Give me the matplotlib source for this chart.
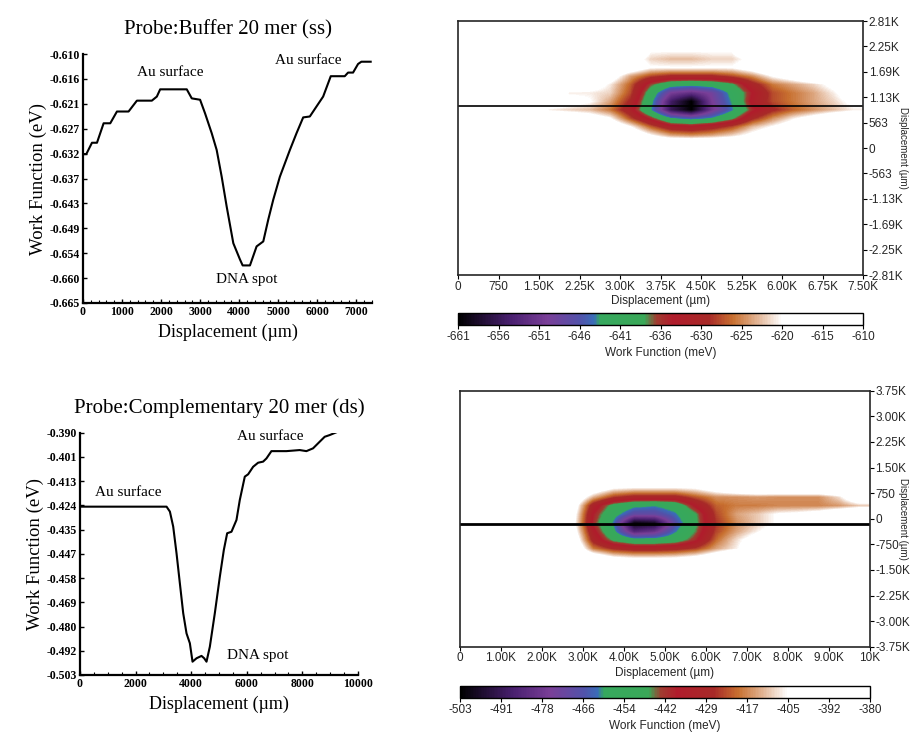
import numpy as np
import matplotlib
matplotlib.use('Agg')
import matplotlib.pyplot as plt
from matplotlib.colors import LinearSegmentedColormap

# ---- line profiles ----
ss_x = [0, 85, 230, 358, 528, 698, 869, 1167, 1380, 1763, 1891, 1976, 2657, 2785,
        2998, 3125, 3296, 3423, 3551, 3679, 3849, 4020, 4088, 4275, 4445, 4616,
        4743, 4871, 5041, 5297, 5467, 5638, 5808, 5978, 6149, 6344, 6702, 6787,
        6915, 7043, 7128, 7366]
ss_wf = [-0.6321, -0.6321, -0.6296, -0.6296, -0.6253, -0.6253, -0.6227, -0.6227,
         -0.6203, -0.6203, -0.6194, -0.6178, -0.6178, -0.6198, -0.6201, -0.6231,
         -0.6275, -0.6312, -0.6371, -0.6437, -0.6518, -0.6554, -0.6567, -0.6567,
         -0.6525, -0.6514, -0.6466, -0.6422, -0.6371, -0.6312, -0.6275, -0.6240,
         -0.6238, -0.6216, -0.6194, -0.6149, -0.6149, -0.6141, -0.6141, -0.6122,
         -0.6117, -0.6117]

ds_x = [0, 3114, 3234, 3353, 3473, 3593, 3713, 3832, 3952, 4048, 4192, 4371, 4467,
        4551, 4671, 4850, 5030, 5174, 5294, 5449, 5629, 5748, 5928, 6048, 6228,
        6407, 6587, 6707, 6886, 7425, 7904, 8144, 8383, 8623, 8802, 8982, 9281]
ds_wf = [-0.4245, -0.4245, -0.4268, -0.4338, -0.4463, -0.4603, -0.4742, -0.4836,
         -0.4882, -0.4968, -0.4952, -0.4941, -0.4952, -0.4968, -0.4898, -0.4742,
         -0.4572, -0.4447, -0.4369, -0.4362, -0.4307, -0.4214, -0.4105, -0.4094,
         -0.4059, -0.4040, -0.4035, -0.4020, -0.3986, -0.3986, -0.3981, -0.3986,
         -0.3973, -0.3942, -0.3919, -0.3911, -0.3895]

ss_yticks = ['-0.665', '-0.660', '-0.654', '-0.649', '-0.643', '-0.637', '-0.632',
             '-0.627', '-0.621', '-0.616', '-0.610']
ds_yticks = ['-0.503', '-0.492', '-0.480', '-0.469', '-0.458', '-0.447', '-0.435',
             '-0.424', '-0.413', '-0.401', '-0.390']

# ---- work function maps (meV), coarse grid ----
ss_bg = -613
ss_block = [  # rows 3..13 of 30, cols 4..19 of 20
    [-613, -613, -613, -613, -613, -620, -620, -620, -620, -620, -613, -613, -613, -613, -613, -613],
    [-613, -613, -613, -613, -617, -622, -623, -623, -622, -622, -619, -613, -613, -613, -613, -613],
    [-613, -613, -613, -613, -616, -620, -620, -620, -620, -620, -617, -613, -613, -613, -613, -613],
    [-613, -613, -615, -617, -624, -628, -630, -630, -630, -628, -625, -620, -617, -613, -613, -613],
    [-613, -615, -617, -621, -627, -636, -641, -642, -641, -638, -631, -626, -624, -622, -619, -615],
    [-613, -621, -621, -622, -628, -640, -650, -652, -649, -642, -634, -628, -626, -624, -621, -617],
    [-615, -618, -620, -624, -630, -642, -655, -661, -650, -643, -633, -628, -626, -624, -622, -619],
    [-621, -622, -623, -626, -632, -643, -656, -661, -651, -644, -635, -630, -627, -625, -623, -621],
    [-613, -615, -617, -620, -628, -635, -643, -645, -643, -638, -630, -625, -621, -618, -615, -613],
    [-613, -613, -613, -615, -620, -627, -632, -633, -631, -628, -623, -620, -617, -613, -613, -613],
    [-613, -613, -613, -613, -615, -620, -624, -625, -624, -622, -619, -616, -613, -613, -613, -613],
]
ss_line_y = 930

ds_bg = -385
ds_block = [  # rows 11..19 of 30, cols 5..19 of 20
    [-385, -395, -405, -407, -407, -407, -405, -398, -390, -385, -385, -385, -385, -385, -385],
    [-390, -412, -425, -430, -430, -430, -422, -416, -416, -415, -416, -416, -416, -408, -390],
    [-395, -432, -450, -458, -460, -455, -436, -421, -418, -418, -417, -417, -417, -415, -410],
    [-398, -438, -456, -470, -470, -462, -447, -424, -414, -410, -404, -402, -398, -390, -385],
    [-400, -440, -462, -500, -497, -468, -448, -426, -416, -410, -404, -398, -390, -385, -385],
    [-397, -435, -458, -485, -480, -462, -445, -424, -414, -406, -398, -390, -385, -385, -385],
    [-392, -430, -448, -456, -456, -452, -440, -420, -408, -398, -385, -385, -385, -385, -385],
    [-388, -418, -428, -432, -432, -430, -425, -414, -406, -392, -385, -385, -385, -385, -385],
    [-385, -395, -405, -408, -408, -407, -403, -395, -385, -385, -385, -385, -385, -385, -385],
]
ds_line_y = -150

ss_map_xlabels = ['0', '750', '1.50K', '2.25K', '3.00K', '3.75K', '4.50K', '5.25K',
                  '6.00K', '6.75K', '7.50K']
ss_map_ylabels = ['-2.81K', '-2.25K', '-1.69K', '-1.13K', '-563', '0', '563', '1.13K',
                  '1.69K', '2.25K', '2.81K']
ss_cb_labels = ['-661', '-656', '-651', '-646', '-641', '-636', '-630', '-625', '-620',
                '-615', '-610']
ds_map_xlabels = ['0', '1.00K', '2.00K', '3.00K', '4.00K', '5.00K', '6.00K', '7.00K',
                  '8.00K', '9.00K', '10K']
ds_map_ylabels = ['-3.75K', '-3.00K', '-2.25K', '-1.50K', '-750', '0', '750', '1.50K',
                  '2.25K', '3.00K', '3.75K']
ds_cb_labels = ['-503', '-491', '-478', '-466', '-454', '-442', '-429', '-417', '-405',
                '-392', '-380']

SERIF = 'Liberation Serif'
SANS = 'Liberation Sans'
GREY = '#262626'

wf_cmap = LinearSegmentedColormap.from_list('wf', [
    (0.0, '#000000'), (0.05, '#1c0c2c'), (0.13, '#4a2070'), (0.22, '#7a3f98'),
    (0.30, '#5252aa'), (0.335, '#3a6cb8'), (0.35, '#36a85e'), (0.46, '#3aa858'),
    (0.49, '#a03c30'), (0.53, '#b01c2c'), (0.62, '#a82a28'), (0.68, '#c87030'),
    (0.74, '#e2b494'), (0.80, '#ffffff'), (1.0, '#ffffff')])


def line_panel(ax, x, y, xmax, xticks, ymin, ymax, ylabels, title, notes):
    ax.plot(x, y, color='black', lw=1.5)
    ax.set_xlim(0, xmax)
    ax.set_ylim(ymin, ymax)
    ax.spines['top'].set_visible(False)
    ax.spines['right'].set_visible(False)
    for s in ('left', 'bottom'):
        ax.spines[s].set_linewidth(1.6)
    ax.set_xticks(xticks)
    ax.set_xticklabels([str(t) for t in xticks], fontfamily=SERIF, fontweight='bold', fontsize=8.5)
    ax.set_yticks(np.linspace(ymin, ymax, 11))
    ax.set_yticklabels(ylabels, fontfamily=SERIF, fontweight='bold', fontsize=8.5)
    ax.minorticks_on()
    ax.tick_params(which='major', direction='in', length=3, width=1, pad=2)
    ax.tick_params(which='minor', direction='in', length=2, width=0.8)
    ax.yaxis.set_minor_locator(plt.NullLocator())
    ax.set_xlabel('Displacement (\u00b5m)', fontfamily=SERIF, fontsize=13, labelpad=4)
    ax.set_ylabel('Work Function (eV)', fontfamily=SERIF, fontsize=13.5, labelpad=2)
    ax.set_title(title, fontfamily=SERIF, fontsize=15, pad=14)
    for txt, tx, ty in notes:
        ax.text(tx, ty, txt, fontfamily=SERIF, fontsize=11, ha='center', va='center')


def map_panel(fig, rect, crect, bg, block, r0, c0, shape, xmax, ylim, line_y, line_w,
              xlabels, ylabels, vmin, vmax, cblabels, ylab_x):
    ax = fig.add_axes(rect)
    z = np.full(shape, float(bg))
    blk = np.array(block, dtype=float)
    z[r0:r0 + blk.shape[0], c0:c0 + blk.shape[1]] = blk
    im = ax.imshow(z, cmap=wf_cmap, vmin=vmin, vmax=vmax, extent=(0, xmax, -ylim, ylim),
                   aspect='auto', interpolation='bilinear', interpolation_stage='data',
                   origin='upper')
    ax.axhline(line_y, color='black', lw=line_w)
    ax.set_xlim(0, xmax)
    ax.set_ylim(-ylim, ylim)
    ax.set_xticks(np.linspace(0, xmax, 11))
    ax.set_xticklabels(xlabels, fontfamily=SANS, fontsize=8.5, color=GREY)
    ax.yaxis.tick_right()
    ax.set_yticks(np.linspace(-ylim, ylim, 11))
    ax.set_yticklabels(ylabels, fontfamily=SANS, fontsize=8.5, color=GREY)
    ax.tick_params(length=3, width=0.8, pad=1)
    for s in ax.spines.values():
        s.set_linewidth(1.2)
        s.set_color(GREY)
    ax.set_xlabel('Displacement (\u00b5m)', fontfamily=SANS, fontsize=8.5, color=GREY, labelpad=2)
    ax.yaxis.set_label_position('right')
    ax.set_ylabel('Displacement (\u00b5m)', fontfamily=SANS, fontsize=7, rotation=270,
                  color=GREY, va='center')
    ax.yaxis.set_label_coords(ylab_x, 0.5)
    cax = fig.add_axes(crect)
    cb = fig.colorbar(im, cax=cax, orientation='horizontal',
                      ticks=np.linspace(vmin, vmax, 11))
    cb.ax.set_xticklabels(cblabels, fontfamily=SANS, fontsize=8.5, color=GREY)
    cb.ax.tick_params(length=3, width=0.8, pad=1)
    cb.outline.set_linewidth(1)
    cb.set_label('Work Function (meV)', fontfamily=SANS, fontsize=8.5, color=GREY, labelpad=3)
    return ax


def main():
    fig = plt.figure(figsize=(9.1, 7.34), dpi=100)

    ax1 = fig.add_axes([0.0912, 0.5872, 0.3176, 0.3392])
    line_panel(ax1, ss_x, ss_wf, 7400, [0, 1000, 2000, 3000, 4000, 5000, 6000, 7000],
               -0.665, -0.610, ss_yticks, 'Probe:Buffer 20 mer (ss)',
               [('Au surface', 2231, -0.6141), ('Au surface', 5765, -0.6115),
                ('DNA spot', 4190, -0.6599)])

    ax2 = fig.add_axes([0.0879, 0.0804, 0.3055, 0.3301])
    line_panel(ax2, ds_x, ds_wf, 10000, [0, 2000, 4000, 6000, 8000, 10000],
               -0.503, -0.390, ds_yticks, 'Probe:Complementary 20 mer (ds)',
               [('Au surface', 1737, -0.4180), ('Au surface', 6826, -0.3916),
                ('DNA spot', 6407, -0.4937)])

    map_panel(fig, [0.5033, 0.6253, 0.4451, 0.3460], [0.5033, 0.5572, 0.4451, 0.0168],
              ss_bg, ss_block, 3, 4, (30, 20), 7500, 2810, ss_line_y, 1.2,
              ss_map_xlabels, ss_map_ylabels, -661, -610, ss_cb_labels, 1.099)

    map_panel(fig, [0.5055, 0.1189, 0.4505, 0.3488], [0.5055, 0.049, 0.4505, 0.0163],
              ds_bg, ds_block, 11, 5, (30, 20), 10000, 3750, ds_line_y, 2.0,
              ds_map_xlabels, ds_map_ylabels, -503, -380, ds_cb_labels, 1.080)

    fig.savefig('out.png', dpi=100)


if __name__ == '__main__':
    main()
